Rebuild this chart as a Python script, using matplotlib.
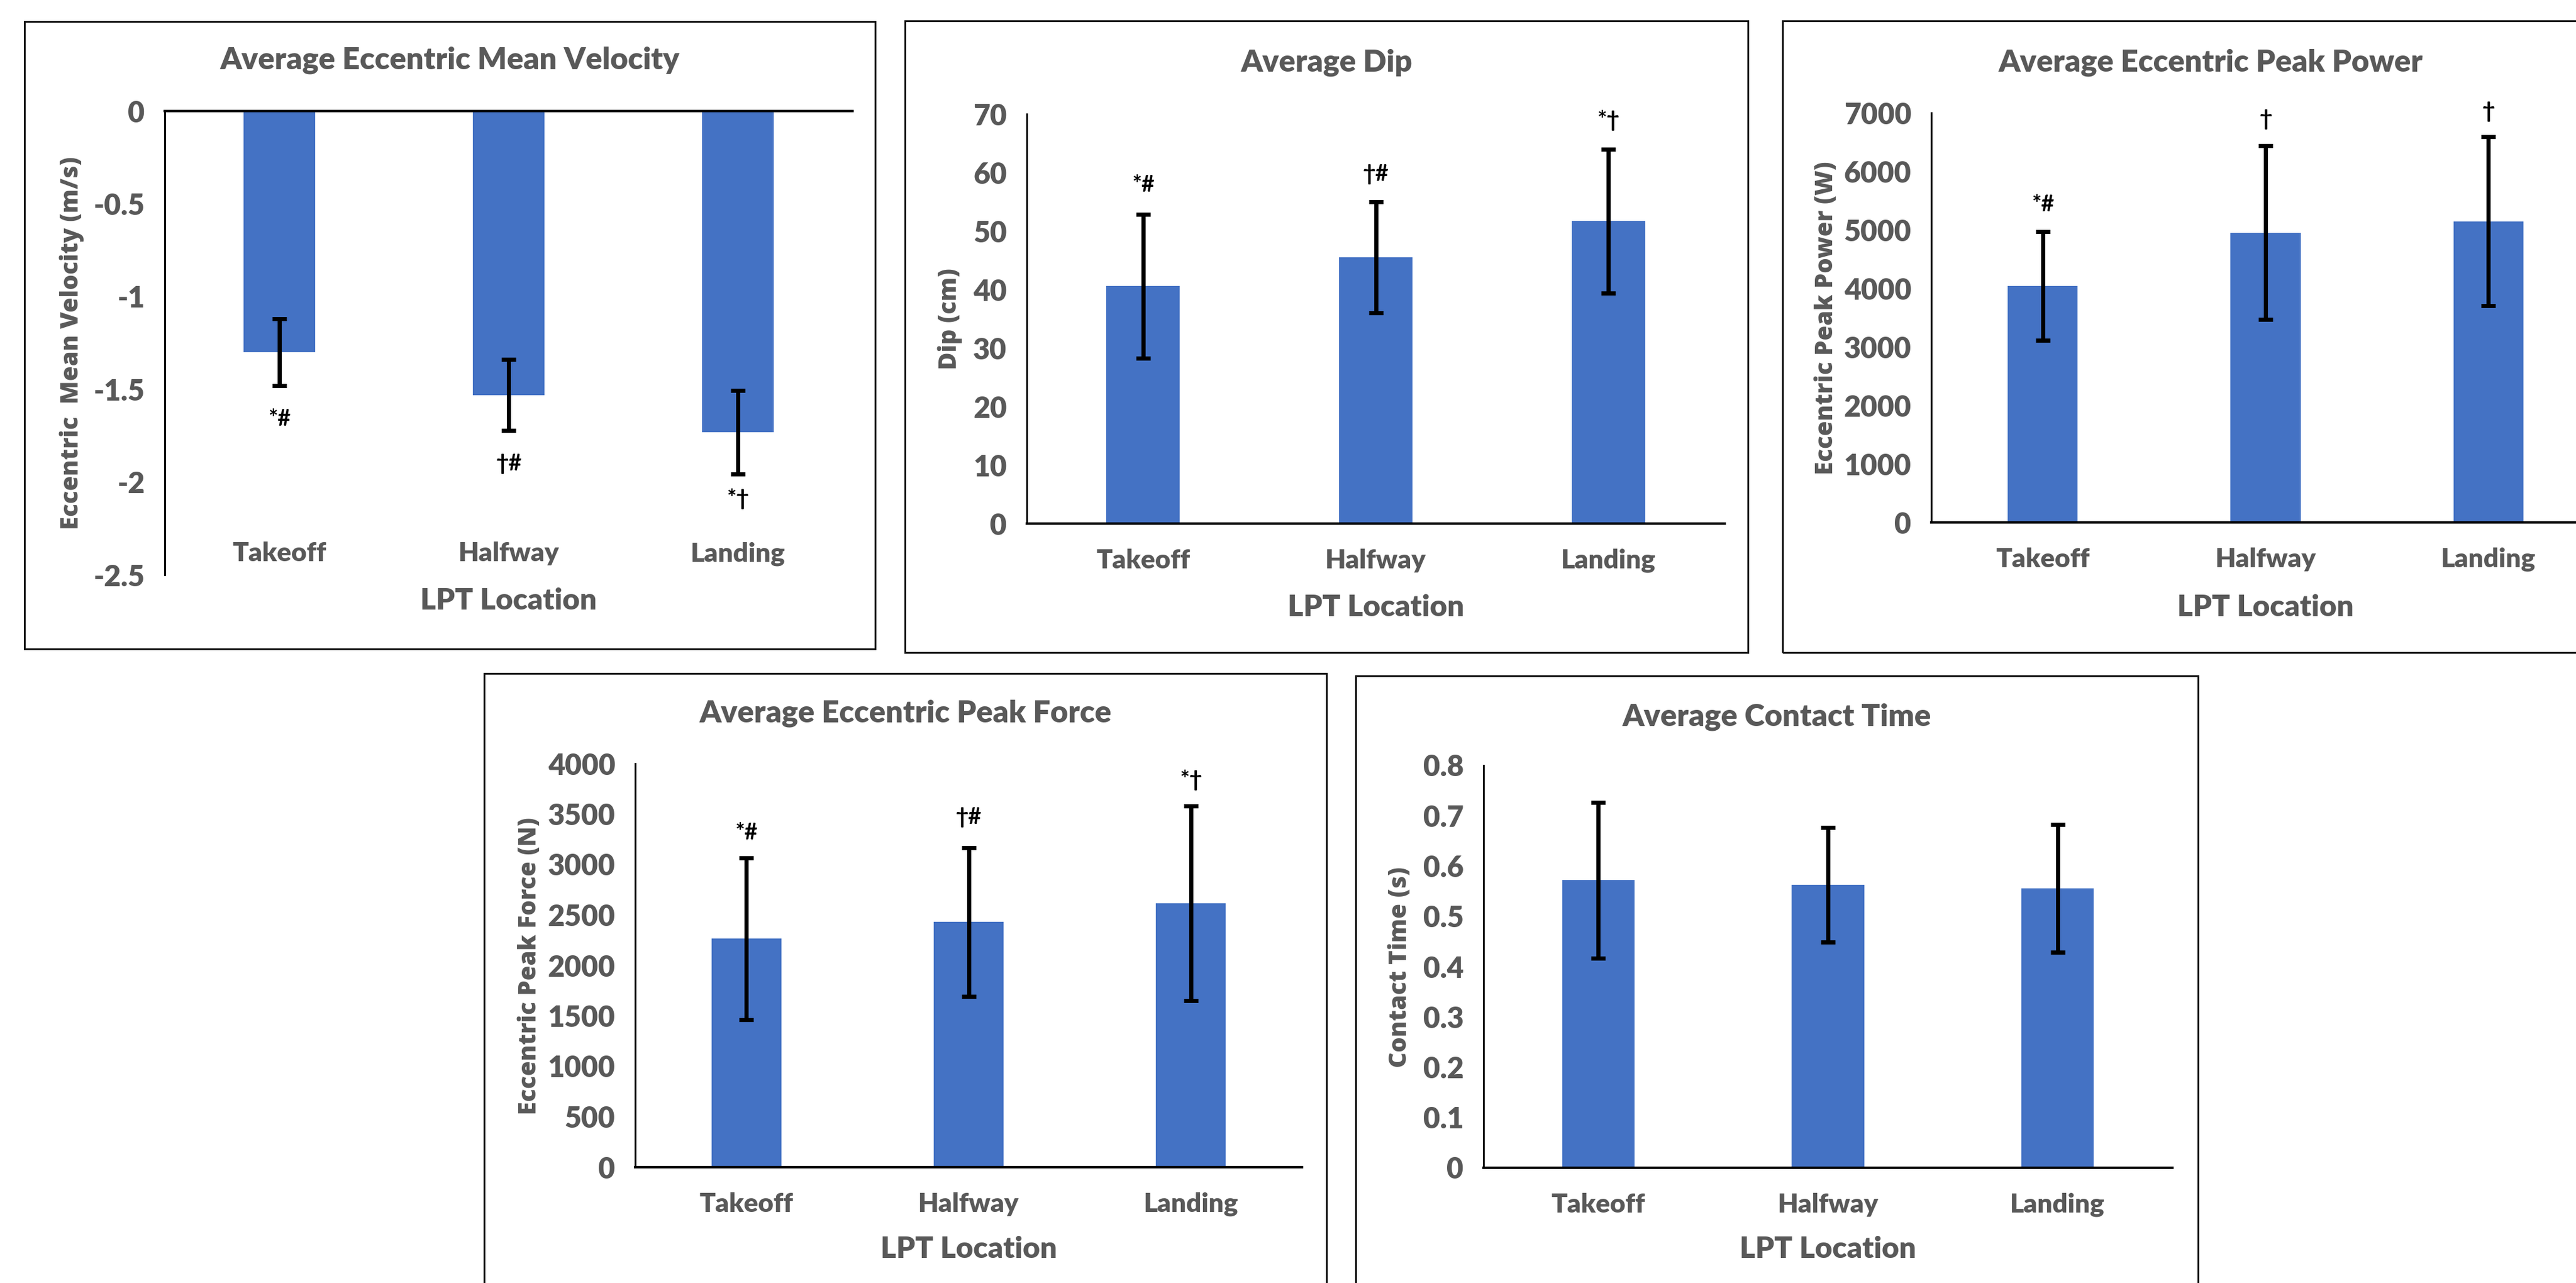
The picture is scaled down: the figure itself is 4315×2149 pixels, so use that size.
import matplotlib
matplotlib.use("Agg")
import matplotlib.pyplot as plt
from matplotlib.patches import Rectangle

W, H = 4315, 2149
GRAY = '#595959'
BLUE = '#4472C4'
FONT = ['Lato', 'DejaVu Sans']

locations = ['Takeoff', 'Halfway', 'Landing']

# eccentric mean velocity (m/s)
vel_mean = [-1.30, -1.53, -1.73]
vel_sd = [0.18, 0.19, 0.225]
vel_marks = ['*#', '†#', '*†']
vel_mark_y = [-1.66, -1.90, -2.09]
vel_ticks = [0, -0.5, -1, -1.5, -2, -2.5]
vel_ticklabels = ['0', '-0.5', '-1', '-1.5', '-2', '-2.5']

# dip (cm)
dip_mean = [40.6, 45.5, 51.7]
dip_sd = [12.3, 9.5, 12.3]
dip_marks = ['*#', '†#', '*†']
dip_mark_y = [57.9, 59.7, 68.9]
dip_ticks = [0, 10, 20, 30, 40, 50, 60, 70]

# eccentric peak power (W)
pow_mean = [4040, 4950, 5145]
pow_sd = [925, 1485, 1445]
pow_marks = ['*#', '†', '†']
pow_mark_y = [5430, 6885, 7020]
pow_ticks = [0, 1000, 2000, 3000, 4000, 5000, 6000, 7000]

# eccentric peak force (N)
force_mean = [2266, 2430, 2615]
force_sd = [802, 737, 963]
force_marks = ['*#', '†#', '*†']
force_mark_y = [3316, 3467, 3836]
force_ticks = [0, 500, 1000, 1500, 2000, 2500, 3000, 3500, 4000]

# contact time (s)
ct_mean = [0.572, 0.563, 0.555]
ct_sd = [0.155, 0.114, 0.127]
ct_ticks = [0, 0.1, 0.2, 0.3, 0.4, 0.5, 0.6, 0.7, 0.8]
ct_ticklabels = ['0', '0.1', '0.2', '0.3', '0.4', '0.5', '0.6', '0.7', '0.8']

fig = plt.figure(figsize=(W / 100, H / 100), dpi=100)


def fx(x):
    return x / W


def fy(y):
    return 1 - y / H


def frame(x0, x1, y0, y1):
    fig.add_artist(Rectangle((fx(x0), fy(y1)), fx(x1 - x0), (y1 - y0) / H,
                             transform=fig.transFigure, fill=False,
                             edgecolor='#111111', linewidth=2.2))


def panel(box, ax_px, title, title_y, ylabel, ylabel_xy, xlabel_y,
          means, sds, ticks, ticklabels, marks=None, mark_y=None,
          negative=False, xpad=30):
    frame(*box)
    x0, x1, y0, y1 = ax_px
    ax = fig.add_axes([fx(x0), fy(y1), fx(x1 - x0), (y1 - y0) / H])
    pos = range(len(locations))
    ax.bar(pos, means, width=0.315, color=BLUE, zorder=2)
    ax.errorbar(pos, means, yerr=sds, fmt='none', ecolor='black',
                elinewidth=5, capsize=8.3, capthick=5, zorder=3)
    ax.set_xlim(-0.5, 2.5)
    ax.set_ylim(min(ticks), max(ticks))
    ax.set_yticks(ticks)
    ax.set_yticklabels(ticklabels if ticklabels else [str(t) for t in ticks])
    ax.set_xticks(list(pos))
    ax.set_xticklabels(locations)
    for lab in ax.get_yticklabels():
        lab.set_fontsize(35)
    for lab in ax.get_xticklabels():
        lab.set_fontsize(32)
    for lab in ax.get_xticklabels() + ax.get_yticklabels():
        lab.set_family(FONT)
        lab.set_weight('heavy')
        lab.set_color(GRAY)
    ax.tick_params(axis='both', length=0)
    ax.tick_params(axis='y', pad=24)
    ax.tick_params(axis='x', pad=xpad)
    ax.spines['right'].set_visible(False)
    if negative:
        ax.spines['bottom'].set_visible(False)
        ax.spines['top'].set_linewidth(3)
    else:
        ax.spines['top'].set_visible(False)
        ax.spines['bottom'].set_linewidth(3)
    ax.spines['left'].set_linewidth(2.2)
    if marks:
        for i, (m, yv) in enumerate(zip(marks, mark_y)):
            ax.text(i, yv, m, ha='center', va='center', fontsize=27,
                    family=FONT, weight='bold', color='black', clip_on=False)
    cx = (box[0] + box[1]) / 2
    fig.text(fx(cx), fy(title_y), title, ha='center', va='baseline',
             fontsize=37, family=FONT, weight='heavy', color=GRAY)
    fig.text(fx((x0 + x1) / 2), fy(xlabel_y), 'LPT Location', ha='center',
             va='baseline', fontsize=36, family=FONT, weight='heavy', color=GRAY)
    fig.text(fx(ylabel_xy[0]), fy(ylabel_xy[1]), ylabel, rotation=90,
             ha='center', va='center', fontsize=29,
             family=['Open Sans', 'DejaVu Sans'], weight='heavy', color=GRAY)
    return ax


panel((41, 1466, 36, 1087), (276, 1428, 186, 963),
      'Average Eccentric Mean Velocity', 116,
      'Eccentric  Mean Velocity (m/s)', (120, 575), 1021,
      vel_mean, vel_sd, vel_ticks, vel_ticklabels, vel_marks, vel_mark_y,
      negative=True, xpad=-40)

panel((1516, 2928, 35, 1093), (1720, 2889, 191, 877),
      'Average Dip', 119, 'Dip (cm)', (1591, 534), 1032,
      dip_mean, dip_sd, dip_ticks, None, dip_marks, dip_mark_y)

panel((2986, 4420, 35, 1093), (3235, 4355, 189, 875),
      'Average Eccentric Peak Power', 119,
      'Eccentric Peak Power (W)', (3060, 533), 1032,
      pow_mean, pow_sd, pow_ticks, None, pow_marks, pow_mark_y)

panel((811, 2222, 1128, 2200), (1064, 2181, 1279, 1955),
      'Average Eccentric Peak Force', 1210,
      'Eccentric Peak Force (N)', (888, 1618), 2107,
      force_mean, force_sd, force_ticks, None, force_marks, force_mark_y)

panel((2271, 3682, 1132, 2200), (2485, 3639, 1282, 1956),
      'Average Contact Time', 1215,
      'Contact Time (s)', (2345, 1620), 2107,
      ct_mean, ct_sd, ct_ticks, ct_ticklabels)

fig.savefig('out.png', dpi=100)
